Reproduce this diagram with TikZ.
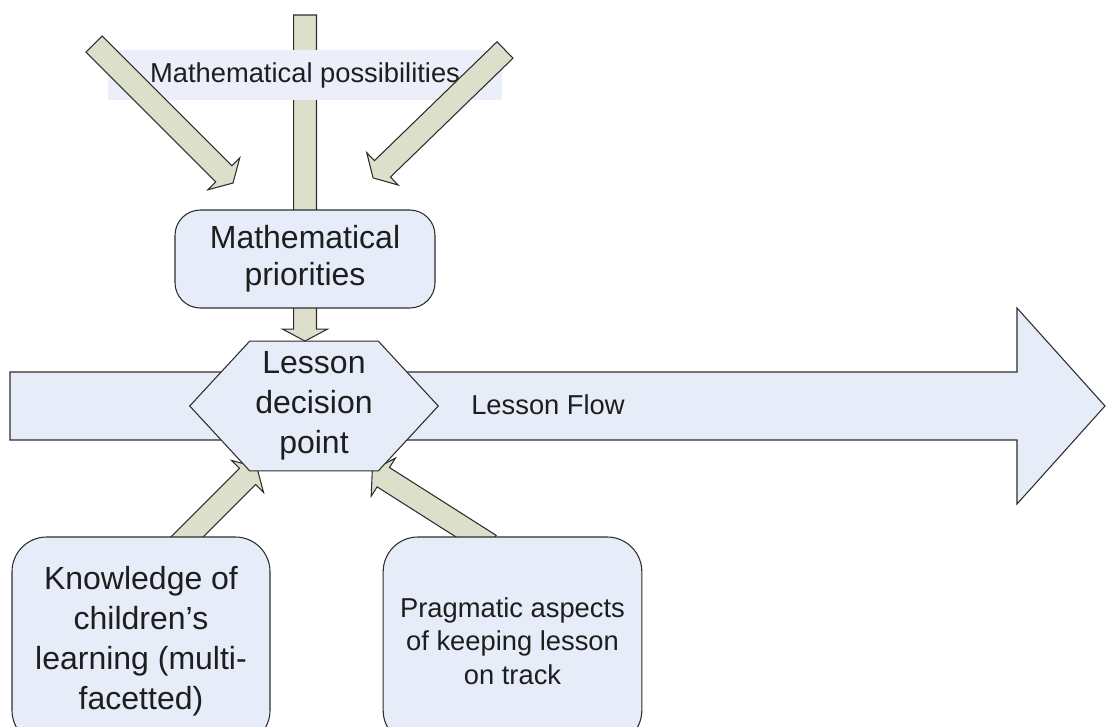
\documentclass[tikz,border=0pt]{standalone}
\usepackage{fontspec}
\setmainfont{Liberation Sans}
\usetikzlibrary{calc, positioning}
\definecolor{colorBox}{RGB}{230,236,248}
\definecolor{colorBand}{RGB}{234,239,250}
\definecolor{colorArrow}{RGB}{220,223,202}
\definecolor{colorLine}{RGB}{45,45,45}
\definecolor{colorText}{RGB}{30,30,30}

\tikzset{
    bshaft/.store in=\bshaft, bhead/.store in=\bhead, blen/.store in=\blen,
    bshaft=8.6pt, bhead=16.9pt, blen=9.75pt
}

\begin{document}
\begin{tikzpicture}[
    x=0.75pt, y=-0.75pt,
    every node/.style={text=colorText},
    box/.style={rectangle, rounded corners=26pt, draw=colorLine, fill=colorBox, line width=0.8pt,
                align=center, inner sep=4pt},
    bigtext/.style={font=\fontsize{24}{30}\selectfont},
    smalltext/.style={font=\fontsize{20.5}{25}\selectfont},
    barrow/.style={draw=colorLine, fill=colorArrow, line width=0.8pt,
        to path={let \p1=($(\tikztotarget)-(\tikztostart)$), \n1={veclen(\x1,\y1)}, \n2={atan2(\y1,\x1)} in
            [shift={(\tikztostart)}, rotate=\n2]
            (0pt,-\bshaft) -- ({\n1*1pt-\blen},-\bshaft) -- ({\n1*1pt-\blen},-\bhead) -- ({\n1*1pt},0pt)
            -- ({\n1*1pt-\blen},\bhead) -- ({\n1*1pt-\blen},\bshaft) -- (0pt,\bshaft) -- cycle}},
    flowarrow/.style={barrow, fill=colorBox, bshaft=25.5pt, bhead=73.5pt, blen=66pt}
]
\useasboundingbox (0,0) rectangle (1107,726);

% lesson flow
\coordinate (flowstart) at (10,406);
\coordinate (flowend) at (1105,406);
\draw[flowarrow] (flowstart) to (flowend);
\node[smalltext] (flow) at (548,405) {Lesson Flow};

% arrows from below
\coordinate (tailK) at (179,545);
\coordinate (tipK) at (257,467);
\coordinate (tailP) at (490,545);
\coordinate (tipP) at (372,470);
\draw[barrow] (tailK) to (tipK);
\draw[barrow] (tailP) to (tipP);

% decision point
\node[minimum width=186pt, minimum height=97pt, inner sep=0pt] (decision) at (314,406) {};
\draw[draw=colorLine, fill=colorBox, line width=0.8pt] (decision.west) -- ([xshift=45pt]decision.north west)
    -- ([xshift=-45pt]decision.north east) -- (decision.east) -- ([xshift=-45pt]decision.south east)
    -- ([xshift=45pt]decision.south west) -- cycle;
\node[bigtext, align=center] (decisiontext) at (decision) {Lesson\\decision\\point};

% arrows from above
\coordinate (tailM) at (305,15);
\coordinate (tipM) at ($(decision.north)+(-9,0)$);
\draw[barrow, bhead=16.9pt, blen=9pt] (tailM) to (tipM);

\node[smalltext, fill=colorBand, minimum width=296pt, minimum height=37.5pt] (possib) at (305,75) {Mathematical possibilities};

\coordinate (tailL) at (94,44);
\coordinate (tipL) at (233,183);
\coordinate (tailR) at (505,50);
\coordinate (tipR) at (373,178);
\draw[barrow] (tailL) to (tipL);
\draw[barrow] (tailR) to (tipR);

\node[box, bigtext, rounded corners=19pt, minimum width=195pt, minimum height=73.5pt, font=\fontsize{24}{28}\selectfont] (priorities) at (305,259) {Mathematical\\priorities};

% boxes below
\node[box, bigtext, minimum width=193.5pt, minimum height=156pt] (knowledge) at (141,641) {Knowledge of\\children’s\\learning (multi-\\facetted)};
\node[box, smalltext, minimum width=194pt, minimum height=156pt] (pragmatic) at (512.5,641) {Pragmatic aspects\\of keeping lesson\\on track};

\end{tikzpicture}
\end{document}
